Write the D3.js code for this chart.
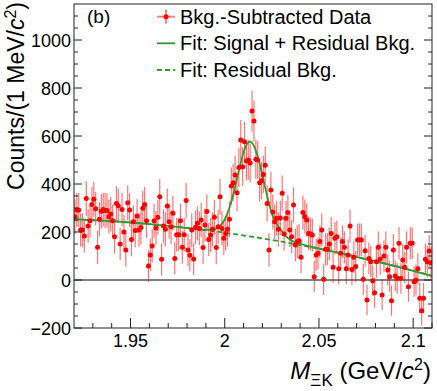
<!DOCTYPE html>
<html>
<head>
<meta charset="utf-8">
<script src="https://cdn.jsdelivr.net/npm/d3@7"></script>
<style>
  body { margin: 0; background: #fff; }
  text { font-family: "Liberation Sans", Arial, sans-serif; fill: #000; }
</style>
</head>
<body>
<div id="chart"></div>
<script>
// bin-by-bin data, 1 MeV bins from 1.920 to 2.110 GeV
var binLow = 1.92, binWidth = 0.001;
var counts = [
  264, 292, 292, 208, 208, 183, 340, 225, 247, 315,
  336, 297, 136, 253, 286, 294, 290, 290, 264, 275,
  247, 180, 319, 309, 150, 294, 200, 125, 322, 292,
  169, 243, 206, 267, 208, 219, 299, 315, 247, 58,
  104, 142, 247, 217, 261, 347, 86, 225, 211, 308,
  243, 222, 278, 90, 189, 189, 247, 136, 189, 331,
  125, 103, 208, 87, 220, 236, 215, 250, 135, 229,
  285, 169, 188, 211, 261, 135, 222, 347, 215, 174,
  194, 211, 253, 392, 405, 438, 364, 469, 583, 472,
  576, 496, 500, 488, 704, 662, 503, 500, 405, 414,
  440, 478, 319, 125, 375, 283, 243, 257, 211, 258,
  361, 192, 257, 281, 208, 180, 313, 146, 160, 164,
  95, 281, 264, 250, 194, 192, 187, 14, 104, 111,
  160, 208, 3, 128, 128, 150, 194, 53, 174, 180,
  47, 111, 160, 136, 47, 104, 225, 44, 95, 56,
  167, 168, 167, 3, 122, -83, 90, 76, -3, -53,
  76, 136, 86, -62, 100, 136, 42, 14, -86, 125,
  17, 7, 153, 7, 83, 53, 136, -28, 153, 153,
  -7, 0, 47, -76, -128, -76, 86, 76, 121, 72
];
var errors = [
  72, 70, 71, 69, 70, 68, 72, 70, 71, 73,
  72, 70, 69, 71, 72, 70, 73, 71, 70, 72,
  69, 70, 72, 71, 68, 70, 72, 69, 73, 71,
  70, 68, 70, 71, 69, 70, 72, 73, 71, 66,
  68, 69, 71, 70, 72, 74, 67, 70, 71, 73,
  70, 71, 72, 67, 70, 69, 71, 68, 70, 74,
  68, 67, 70, 66, 70, 71, 70, 72, 68, 70,
  72, 69, 70, 71, 73, 69, 71, 75, 71, 70,
  71, 72, 74, 77, 78, 80, 78, 81, 84, 81,
  84, 82, 82, 81, 86, 85, 81, 80, 78, 78,
  78, 79, 75, 70, 76, 73, 72, 72, 71, 72,
  75, 70, 72, 73, 70, 69, 73, 68, 69, 69,
  67, 71, 71, 70, 69, 69, 68, 65, 67, 67,
  68, 69, 65, 67, 67, 68, 69, 65, 68, 68,
  65, 66, 68, 67, 65, 66, 69, 65, 66, 65,
  68, 68, 68, 64, 67, 63, 66, 66, 64, 63,
  66, 67, 66, 63, 66, 67, 65, 64, 63, 67,
  64, 64, 67, 64, 66, 65, 67, 63, 67, 67,
  64, 64, 65, 63, 62, 63, 66, 66, 67, 66
];

// fit curves
var fitX = [1.92, 1.93, 1.94, 1.95, 1.96, 1.97, 1.98, 1.985, 1.99, 1.9925, 1.995, 1.9975,
            2.0, 2.0025, 2.005, 2.0075, 2.01, 2.0125, 2.0135, 2.015, 2.0175, 2.02, 2.0225,
            2.025, 2.0275, 2.03, 2.0325, 2.035, 2.04, 2.045, 2.05, 2.06, 2.07, 2.08, 2.09,
            2.10, 2.11];
var fitTotal = [253, 249.5, 245, 239.5, 233, 225.6, 217, 212.5, 209, 208.5, 212, 225,
                252, 301, 372, 456, 532, 574, 577, 566, 515, 436, 351,
                277, 235, 207, 182, 167, 151, 140, 131, 114, 96, 78, 59,
                38, 17];
var bkgX = [1.92, 1.94, 1.96, 1.98, 2.0, 2.02, 2.04, 2.06, 2.08, 2.10, 2.11];
var bkgY = [253, 245, 233, 217, 197, 173.4, 145.6, 113.8, 78, 38.3, 17];

var xMajor = [1.95, 2.0, 2.05, 2.1];
var xMajorLabels = ["1.95", "2", "2.05", "2.1"];
var yMajor = [-200, 0, 200, 400, 600, 800, 1000];

var legendLabels = ["Bkg.-Subtracted Data", "Fit: Signal + Residual Bkg.", "Fit: Residual Bkg."];

var W = 437, H = 391;
var plot = {left: 74, right: 432, top: 4, bottom: 328};
var green = "#2f9a2f";

var svg = d3.select("#chart").append("svg")
  .attr("width", W)
  .attr("height", H);

var x = d3.scaleLinear().domain([1.92, 2.11]).range([plot.left, plot.right]);
var y = d3.scaleLinear().domain([-200, 1150]).range([plot.bottom, plot.top]);

var points = counts.map(function(c, i) {
  return {x: binLow + (i + 0.5) * binWidth, y: c, e: errors[i]};
});

svg.append("defs").append("clipPath").attr("id", "clip")
  .append("rect")
  .attr("x", plot.left).attr("y", plot.top)
  .attr("width", plot.right - plot.left).attr("height", plot.bottom - plot.top);

// zero line
svg.append("line")
  .attr("x1", plot.left).attr("x2", plot.right)
  .attr("y1", y(0)).attr("y2", y(0))
  .attr("stroke", "#000").attr("stroke-width", 1);

var g = svg.append("g").attr("clip-path", "url(#clip)");

// error bars
g.append("g").selectAll("line")
  .data(points)
  .enter().append("line")
    .attr("x1", function(d) { return x(d.x); })
    .attr("x2", function(d) { return x(d.x); })
    .attr("y1", function(d) { return y(d.y - d.e); })
    .attr("y2", function(d) { return y(d.y + d.e); })
    .attr("stroke", "#ff0000")
    .attr("stroke-opacity", 0.55)
    .attr("stroke-width", 1.2);

// fit lines
var lineTot = d3.line()
  .x(function(d, i) { return x(fitX[i]); })
  .y(function(d) { return y(d); })
  .curve(d3.curveMonotoneX);
var lineBkg = d3.line()
  .x(function(d, i) { return x(bkgX[i]); })
  .y(function(d) { return y(d); })
  .curve(d3.curveMonotoneX);

g.append("path")
  .attr("d", lineBkg(bkgY))
  .attr("fill", "none")
  .attr("stroke", green)
  .attr("stroke-width", 1.8)
  .attr("stroke-dasharray", "5,3");

g.append("path")
  .attr("d", lineTot(fitTotal))
  .attr("fill", "none")
  .attr("stroke", green)
  .attr("stroke-width", 1.8);

// markers
g.append("g").selectAll("circle")
  .data(points)
  .enter().append("circle")
    .attr("cx", function(d) { return x(d.x); })
    .attr("cy", function(d) { return y(d.y); })
    .attr("r", 2.5)
    .attr("fill", "#ff0000");

// frame
svg.append("rect")
  .attr("x", plot.left).attr("y", plot.top)
  .attr("width", plot.right - plot.left).attr("height", plot.bottom - plot.top)
  .attr("fill", "none").attr("stroke", "#222").attr("stroke-width", 1);

// x ticks
var xMinor = d3.range(1.93, 2.1101, 0.01).filter(function(v) {
  return !xMajor.some(function(m) { return Math.abs(m - v) < 1e-6; });
});
xMajor.forEach(function(v, i) {
  svg.append("line")
    .attr("x1", x(v)).attr("x2", x(v))
    .attr("y1", plot.bottom).attr("y2", plot.bottom - 10)
    .attr("stroke", "#222");
  svg.append("text")
    .attr("x", x(v)).attr("y", 347)
    .attr("text-anchor", "middle")
    .style("font-size", "18px")
    .text(xMajorLabels[i]);
});
xMinor.forEach(function(v) {
  svg.append("line")
    .attr("x1", x(v)).attr("x2", x(v))
    .attr("y1", plot.bottom).attr("y2", plot.bottom - 5)
    .attr("stroke", "#222");
});

// y ticks (left and mirrored right)
var yMinor = d3.range(-150, 1150, 50).filter(function(v) { return v % 200 != 0; });
yMajor.forEach(function(v) {
  svg.append("line")
    .attr("x1", plot.left).attr("x2", plot.left + 8)
    .attr("y1", y(v)).attr("y2", y(v)).attr("stroke", "#222");
  svg.append("line")
    .attr("x1", plot.right).attr("x2", plot.right - 8)
    .attr("y1", y(v)).attr("y2", y(v)).attr("stroke", "#222");
  svg.append("text")
    .attr("x", 71).attr("y", y(v) + 6.5)
    .attr("text-anchor", "end")
    .style("font-size", "18px")
    .text(v < 0 ? "\u2212" + Math.abs(v) : v);
});
yMinor.forEach(function(v) {
  svg.append("line")
    .attr("x1", plot.left).attr("x2", plot.left + 4)
    .attr("y1", y(v)).attr("y2", y(v)).attr("stroke", "#222");
  svg.append("line")
    .attr("x1", plot.right).attr("x2", plot.right - 4)
    .attr("y1", y(v)).attr("y2", y(v)).attr("stroke", "#222");
});

// axis titles
var xt = svg.append("text")
  .attr("x", 431).attr("y", 379)
  .attr("text-anchor", "end")
  .style("font-size", "24px");
xt.append("tspan").style("font-style", "italic").text("M");
xt.append("tspan").attr("dy", 7).style("font-size", "17px").text("\u039EK");
xt.append("tspan").attr("dy", -7).text(" (GeV/");
xt.append("tspan").style("font-style", "italic").text("c");
xt.append("tspan").attr("dy", -9).style("font-size", "16px").text("2");
xt.append("tspan").attr("dy", 9).text(")");

var yt = svg.append("text")
  .attr("transform", "translate(24,2) rotate(-90)")
  .attr("text-anchor", "end")
  .style("font-size", "23px");
yt.append("tspan").text("Counts/(1 MeV/");
yt.append("tspan").style("font-style", "italic").text("c");
yt.append("tspan").attr("dy", -8).style("font-size", "16px").text("2");
yt.append("tspan").attr("dy", 8).text(")");

// panel label
svg.append("text")
  .attr("x", 87).attr("y", 23)
  .style("font-size", "19px")
  .text("(b)");

// legend
var legY = [16.7, 43.3, 70];
var lx1 = 157, lx2 = 175, lxc = 166;
svg.append("line")
  .attr("x1", lx1).attr("x2", lx2).attr("y1", legY[0]).attr("y2", legY[0])
  .attr("stroke", "#ff0000").attr("stroke-opacity", 0.5).attr("stroke-width", 2);
svg.append("line")
  .attr("x1", lxc).attr("x2", lxc).attr("y1", legY[0] - 7).attr("y2", legY[0] + 7)
  .attr("stroke", "#ff0000").attr("stroke-width", 1);
svg.append("circle")
  .attr("cx", lxc).attr("cy", legY[0]).attr("r", 2.5).attr("fill", "#ff0000");
svg.append("line")
  .attr("x1", lx1).attr("x2", lx2).attr("y1", legY[1]).attr("y2", legY[1])
  .attr("stroke", green).attr("stroke-width", 1.8);
svg.append("line")
  .attr("x1", lx1).attr("x2", lx2).attr("y1", legY[2]).attr("y2", legY[2])
  .attr("stroke", green).attr("stroke-width", 1.8).attr("stroke-dasharray", "5,3");

legendLabels.forEach(function(t, i) {
  svg.append("text")
    .attr("x", 180).attr("y", legY[i] + 7)
    .style("font-size", "20px")
    .text(t);
});
</script>
</body>
</html>
